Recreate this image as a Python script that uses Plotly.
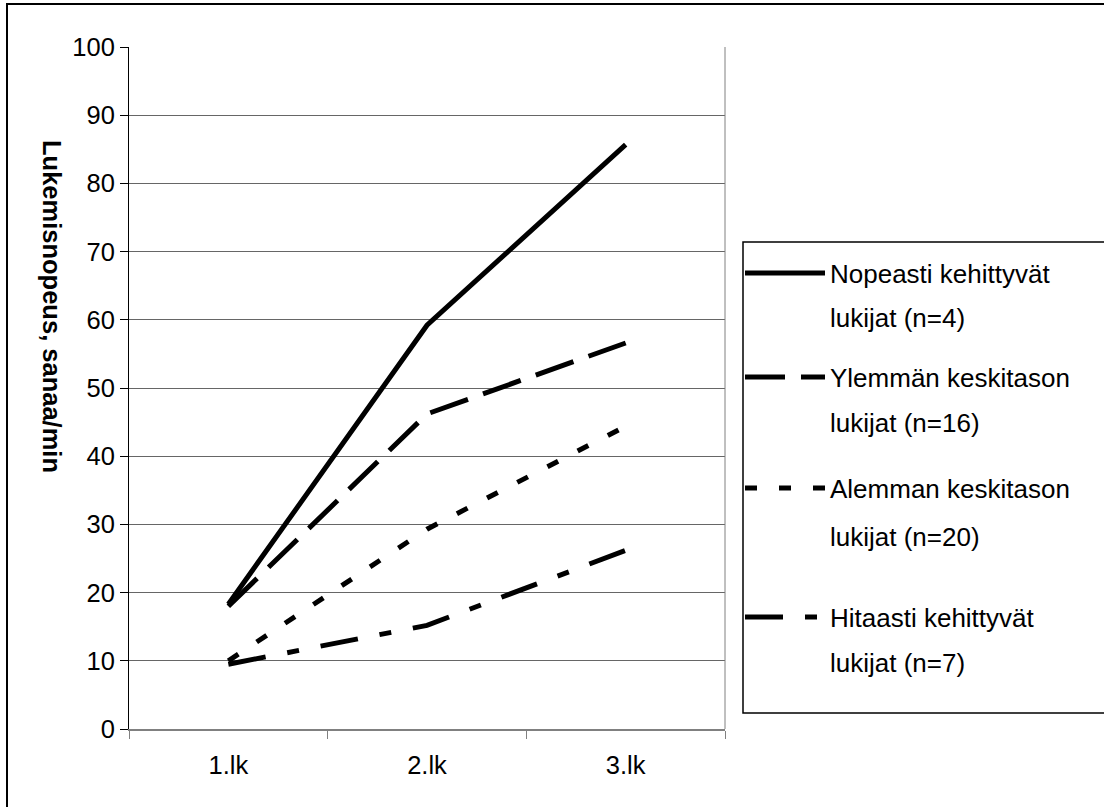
import plotly.graph_objects as go

# ---- data ----
categories = ["1.lk", "2.lk", "3.lk"]
nopeasti = [18.3, 59.2, 85.7]
ylemman = [18.0, 46.2, 56.6]
alemman = [10.0, 29.3, 44.4]
hitaasti = [9.5, 15.2, 26.2]

series_first = ["Nopeasti kehittyvät", "Ylemmän keskitason",
                "Alemman keskitason", "Hitaasti kehittyvät"]
series_second = ["lukijat (n=4)", "lukijat (n=16)", "lukijat (n=20)", "lukijat (n=7)"]
y_ticks = list(range(0, 101, 10))
y_title = "Lukemisnopeus, sanaa/min"

# ---- layout helpers ----
W, H = 1104, 807
L, R, T, B = 129, 379, 47, 78
PW = W - L - R
PH = H - T - B
FONT = "Liberation Sans, Arial, sans-serif"
FS_TICK = 25.5
FS_LEG = 26


def px(x):
    return (x - L) / PW


def py(y):
    return (H - B - y) / PH


values = [nopeasti, ylemman, alemman, hitaasti]
dashes = ["solid", "40px,16px", "12px,22px", "38px,22px,12px,22px"]
legend_ids = ["legend", "legend2", "legend3", "legend4"]
legend_y = [273, 377, 488, 617]
second_y = [318, 423, 537, 663]

fig = go.Figure()
for i in range(4):
    fig.add_trace(go.Scatter(
        x=categories, y=values[i], mode="lines", name=series_first[i],
        line=dict(color="black", width=5, dash=dashes[i]),
        legend=legend_ids[i],
    ))

layout_legends = {}
for i, lid in enumerate(legend_ids):
    layout_legends[lid] = dict(
        x=px(740), xanchor="left", y=py(legend_y[i]), yanchor="middle",
        bgcolor="rgba(0,0,0,0)", borderwidth=0, itemwidth=80,
        font=dict(family=FONT, size=FS_LEG, color="black"),
    )

annotations = []
for i in range(4):
    annotations.append(dict(
        xref="paper", yref="paper", x=px(828), y=py(second_y[i]),
        xanchor="left", yanchor="middle", showarrow=False,
        text=series_second[i], font=dict(family=FONT, size=FS_LEG, color="black"),
    ))
annotations.append(dict(
    xref="paper", yref="paper", x=px(52), y=py(306),
    xanchor="center", yanchor="middle", showarrow=False, textangle=90,
    text="<b>" + y_title + "</b>", font=dict(family=FONT, size=FS_TICK, color="black"),
))

shapes = [
    # outer chart border (only left/top visible)
    dict(type="rect", xref="paper", yref="paper", x0=px(7), x1=px(1125),
         y0=py(825), y1=py(4), line=dict(color="black", width=2)),
    # legend box
    dict(type="rect", xref="paper", yref="paper", x0=px(743), x1=px(1125),
         y0=py(713), y1=py(242), line=dict(color="black", width=1.5)),
    # right edge of plot area
    dict(type="line", xref="x domain", yref="y domain", x0=1, x1=1, y0=0, y1=1,
         line=dict(color="#808080", width=1)),
]

fig.update_layout(
    width=W, height=H,
    margin=dict(l=L, r=R, t=T, b=B, pad=0),
    paper_bgcolor="white", plot_bgcolor="white",
    font=dict(family=FONT, size=FS_TICK, color="black"),
    xaxis=dict(
        type="category", range=[-0.5, 2.5], showline=True, linecolor="#808080",
        linewidth=2, ticks="outside", tickson="boundaries", ticklen=8,
        tickcolor="#808080", tickwidth=1, showgrid=False, zeroline=False,
        tickfont=dict(family=FONT, size=FS_TICK, color="black"), ticklabelstandoff=12,
    ),
    yaxis=dict(
        range=[0, 100], tickvals=y_ticks, showline=True, linecolor="black",
        linewidth=1, ticks="outside", ticklen=8, tickcolor="black",
        showgrid=True, gridcolor="#666666", gridwidth=1, zeroline=False,
        tickfont=dict(family=FONT, size=FS_TICK, color="black"),
    ),
    annotations=annotations,
    shapes=shapes,
    showlegend=True,
    **layout_legends,
)

fig.write_html("out.html")
